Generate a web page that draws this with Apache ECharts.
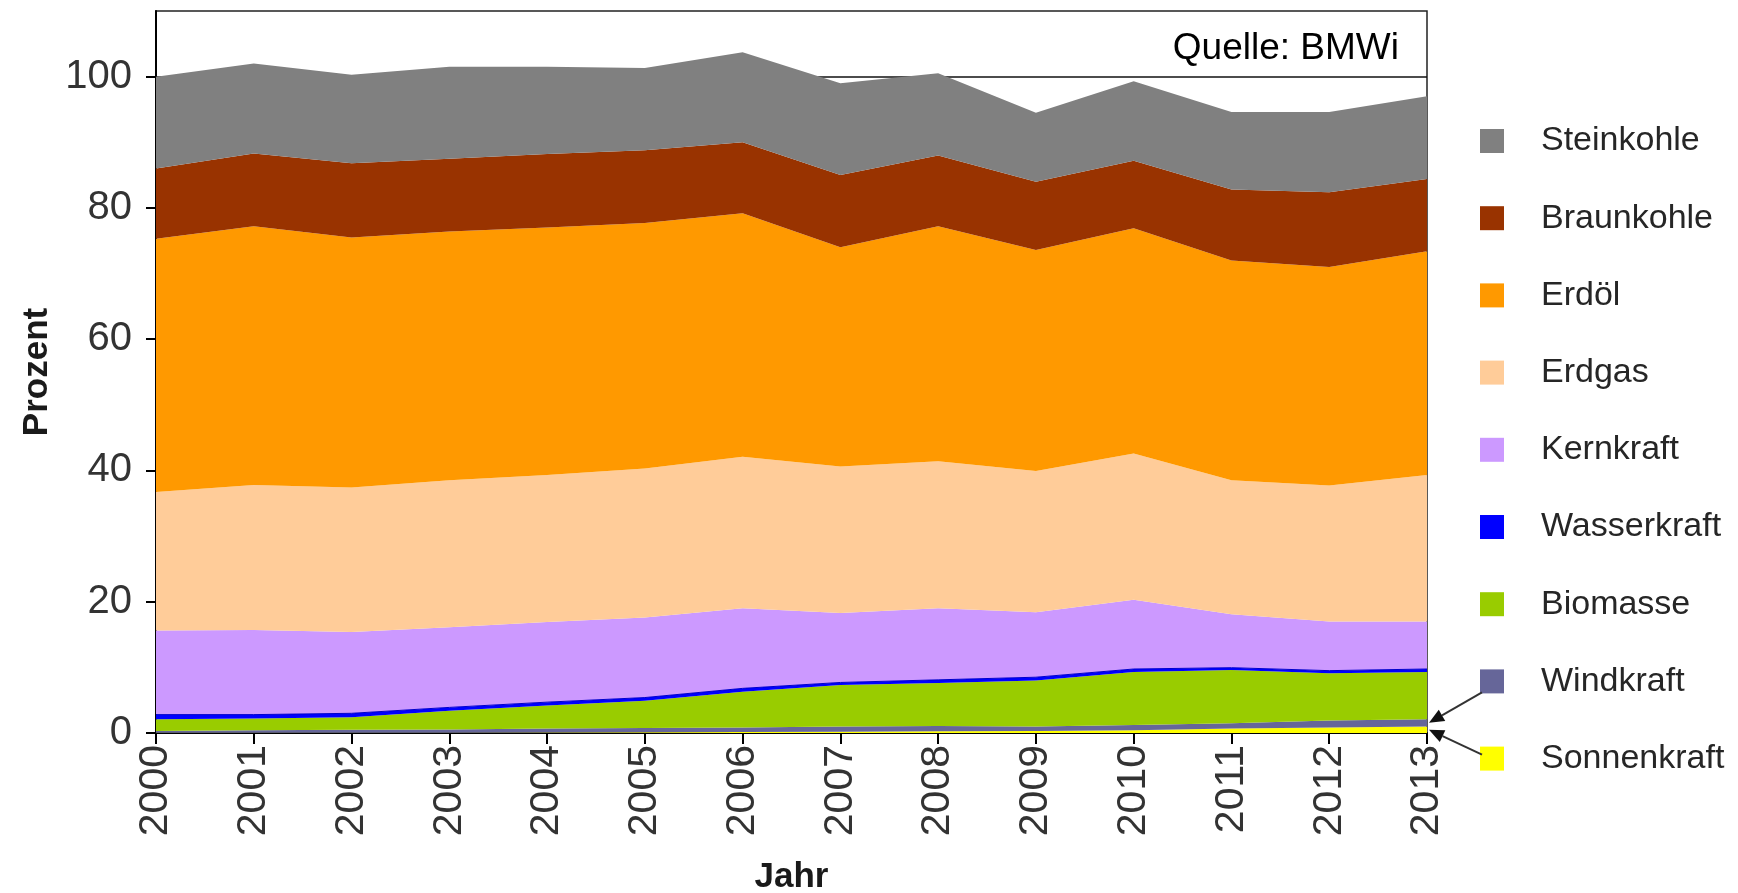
<!DOCTYPE html>
<html>
<head>
<meta charset="utf-8">
<script src="https://cdn.jsdelivr.net/npm/echarts@6/dist/echarts.min.js"></script>
<style>
html,body{margin:0;padding:0;background:#fff;}
#chart{width:1738px;height:893px;}
</style>
</head>
<body>
<div id="chart"></div>
<script>
// ---- data (percent, relative to 2000) ----
const years = ['2000','2001','2002','2003','2004','2005','2006','2007','2008','2009','2010','2011','2012','2013'];
const sonnenkraft = [0.02,0.03,0.04,0.05,0.07,0.1,0.15,0.2,0.25,0.3,0.4,0.7,0.85,1.0];
const windkraft   = [0.28,0.37,0.46,0.5,0.63,0.65,0.7,0.8,0.8,0.7,0.8,0.8,1.05,1.1];
const biomasse    = [1.8,1.8,1.9,2.85,3.5,4.15,5.45,6.3,6.55,7.0,8.1,8.1,7.2,7.2];
const wasserkraft = [0.7,0.6,0.6,0.5,0.5,0.5,0.5,0.4,0.5,0.5,0.45,0.35,0.4,0.45];
const kernkraft   = [12.8,12.9,12.4,12.2,12.2,12.2,12.2,10.6,10.9,9.9,10.55,8.15,7.5,7.25];
const erdgas      = [21.1,22.1,22.0,22.4,22.4,22.7,23.1,22.3,22.4,21.5,22.3,20.4,20.7,22.3];
const erdoel      = [38.6,39.4,38.1,37.9,37.7,37.4,37.1,33.4,35.8,33.7,34.3,33.5,33.3,34.1];
const braunkohle  = [10.7,11.1,11.3,11.1,11.2,11.1,10.8,11.0,10.8,10.4,10.3,10.8,11.4,11.0];
const steinkohle  = [14.0,13.7,13.5,14.0,13.3,12.5,13.7,14.0,12.5,10.5,12.1,11.8,12.2,12.6];
const yTicks = [0,20,40,60,80,100];

const seriesDefs = [
  ['Sonnenkraft', sonnenkraft, '#FFFF00'],
  ['Windkraft',   windkraft,   '#666699'],
  ['Biomasse',    biomasse,    '#99CC00'],
  ['Wasserkraft', wasserkraft, '#0000FF'],
  ['Kernkraft',   kernkraft,   '#CC99FF'],
  ['Erdgas',      erdgas,      '#FFCC99'],
  ['Erdöl',       erdoel,      '#FF9900'],
  ['Braunkohle',  braunkohle,  '#993300'],
  ['Steinkohle',  steinkohle,  '#808080']
];

const FONT = '"Liberation Sans", Arial, Helvetica, sans-serif';
const LEG_LEFT = 1480, LEG_TOP = 124, LEG_ITEM_H = 34, LEG_GAP = 43.2;
const LEG_STEP = LEG_ITEM_H + LEG_GAP;

const chart = echarts.init(document.getElementById('chart'), null, {renderer:'canvas'});

const option = {
  animation: false,
  backgroundColor: '#fff',
  title: {
    text: 'Quelle: BMWi',
    right: 339, top: 30, padding: 0,
    textStyle: {fontFamily: FONT, fontSize: 37, fontWeight: 'normal', color: '#000'}
  },
  grid: {
    left: 156, right: 311, top: 11, bottom: 160,
    outerBoundsMode: 'none',
    containLabel: false,
    show: true, borderColor: '#222', borderWidth: 1.5, backgroundColor: 'transparent'
  },
  legend: {
    orient: 'vertical',
    left: LEG_LEFT, top: LEG_TOP, padding: 0,
    itemWidth: 24, itemHeight: 24, itemGap: LEG_GAP,
    icon: 'rect',
    selectedMode: false,
    data: seriesDefs.map(d => d[0]).reverse(),
    textStyle: {fontFamily: FONT, fontSize: 34, color: '#262626', padding: [0,0,0,32]}
  },
  xAxis: {
    type: 'category',
    data: years,
    boundaryGap: false,
    name: 'Jahr',
    nameLocation: 'middle',
    nameGap: 127,
    nameTextStyle: {fontFamily: FONT, fontSize: 35, fontWeight: 'bold', color: '#1a1a1a'},
    axisLine: {lineStyle: {color: '#000', width: 2}},
    axisTick: {show: true, length: 11, lineStyle: {color: '#000', width: 2}},
    axisLabel: {rotate: 90, margin: 12, fontFamily: FONT, fontSize: 41, color: '#333'},
    splitLine: {show: false}
  },
  yAxis: {
    type: 'value',
    min: 0, max: 110, interval: 20,
    name: 'Prozent',
    nameLocation: 'middle',
    nameGap: 100,
    nameRotate: 90,
    nameTextStyle: {fontFamily: FONT, fontSize: 35, fontWeight: 'bold', color: '#1a1a1a'},
    axisLine: {show: true, lineStyle: {color: '#000', width: 2}},
    axisTick: {show: true, length: 10, customValues: yTicks, lineStyle: {color: '#000', width: 2}},
    axisLabel: {margin: 24, customValues: yTicks, fontFamily: FONT, fontSize: 40, color: '#333'},
    splitLine: {show: true, lineStyle: {width: 1.5, color: ['transparent','transparent','transparent','transparent','transparent','#111','transparent']}}
  },
  series: seriesDefs.map(d => ({
    name: d[0],
    type: 'line',
    stack: 'total',
    data: d[1],
    symbol: 'none',
    smooth: false,
    color: d[2],
    lineStyle: {width: d[0] === 'Wasserkraft' ? 1 : 0, color: d[0] === 'Wasserkraft' ? '#0000CC' : d[2]},
    areaStyle: {color: d[2], opacity: 1},
    emphasis: {disabled: true}
  }))
};
chart.setOption(option);

// ---- annotation arrows from legend markers to the 2013 edge ----
function arrow(x1, y1, x2, y2) {
  const ang = Math.atan2(y2 - y1, x2 - x1);
  const L = 15, W = 6.5;
  const bx = x2 - L * Math.cos(ang), by = y2 - L * Math.sin(ang);
  const px = -Math.sin(ang), py = Math.cos(ang);
  return [
    {type: 'line', shape: {x1: x1, y1: y1, x2: bx, y2: by}, style: {stroke: '#333', lineWidth: 2}, z: 100},
    {type: 'polygon', shape: {points: [[x2, y2], [bx + px * W, by + py * W], [bx - px * W, by - py * W]]}, style: {fill: '#111'}, z: 100}
  ];
}
const last = years.length - 1;
const windMid = sonnenkraft[last] + windkraft[last] * 0.5;
const sunMid = sonnenkraft[last] * 0.5;
const pWind = chart.convertToPixel({gridIndex: 0}, [last, windMid]);
const pSun = chart.convertToPixel({gridIndex: 0}, [last, sunMid]);
const legNames = option.legend.data;
const cyWind = LEG_TOP + legNames.indexOf('Windkraft') * LEG_STEP + LEG_ITEM_H / 2;
const cySun = LEG_TOP + legNames.indexOf('Sonnenkraft') * LEG_STEP + LEG_ITEM_H / 2;
chart.setOption({
  graphic: [].concat(
    arrow(LEG_LEFT + 2, cyWind + 11, pWind[0] + 2, pWind[1]),
    arrow(LEG_LEFT + 2, cySun - 4, pSun[0] + 2, pSun[1])
  )
});
</script>
</body>
</html>
